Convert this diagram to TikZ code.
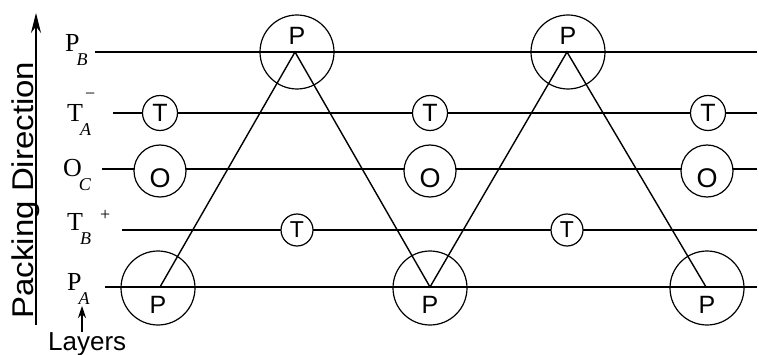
\documentclass[tikz,border=0pt]{standalone}
\usepackage{fontspec}
\setmainfont{Liberation Serif}
\setsansfont{Liberation Sans}
\usetikzlibrary{arrows.meta}
% layer label: letter, italic subscript, optional superscript
\newcommand{\lab}[3]{#1\kern-3pt\rlap{\raisebox{-14pt}{\fontsize{18}{18}\selectfont\itshape #2}}#3}
\newcommand{\upmark}[3]{\kern#1\raisebox{#2}{\fontsize{18}{18}\selectfont #3}}

\begin{document}
\begin{tikzpicture}[x=1pt,y=-1pt,
  layer/.style={line width=1.5pt},
  tring/.style={circle,draw,fill=white,line width=1.2pt,inner sep=0pt,minimum size=35pt,font=\fontsize{25}{25}\selectfont\sffamily},
  oring/.style={circle,draw,fill=white,line width=1.2pt,inner sep=0pt,minimum size=52pt},
  pring/.style={circle,draw,line width=1.2pt,inner sep=0pt,minimum size=74pt},
  atom/.style={inner sep=0pt,font=\fontsize{25}{25}\selectfont\sffamily},
  lay/.style={anchor=base west,inner sep=0pt,font=\fontsize{26}{26}\selectfont}]
  \useasboundingbox (0,0) rectangle (759,355);

  % layers
  \draw[layer] (95,52)--(757,52);
  \draw[layer] (113,113)--(757,113);
  \draw[layer] (102,169)--(757,169);
  \draw[layer] (122,230)--(757,230);
  \draw[layer] (105,287)--(757,287);

  \node[lay] (lpb) at (65,52) {\lab{P}{B}{}};
  \node[lay] (lta) at (67,122) {\lab{T}{A}{\upmark{5pt}{22pt}{−}}};
  \node[lay] (loc) at (63,177) {\lab{O}{C}{}};
  \node[lay] (ltb) at (67,230) {\lab{T}{B}{\upmark{20pt}{10pt}{+}}};
  \node[lay] (lpa) at (67,290) {\lab{P}{A}{}};

  % zigzag chain
  \coordinate (a1) at (160,287);
  \coordinate (b1) at (295,52);
  \coordinate (a2) at (430,287);
  \coordinate (b2) at (567,52);
  \coordinate (a3) at (706,287);
  \draw[line width=1.4pt] (a1)--(b1)--(a2)--(b2)--(a3);

  % atoms
  \foreach \n/\x in {1/158,2/430,3/707}{
    \node[pring] (pa\n) at (\x,288) {};
    \node[atom] (pat\n) at (\x,305) {P};
  }
  \foreach \n/\x in {1/297,2/568}{
    \node[pring] (pb\n) at (\x,52) {};
    \node[atom] (pbt\n) at (\x,36) {P};
  }
  \foreach \n/\x in {1/160,2/430,3/708}{
    \node[tring] (ta\n) at (\x,113) {T};
  }
  \foreach \n/\x in {1/160,2/430,3/707}{
    \node[oring] (oc\n) at (\x,171) {};
    \node[atom,font=\fontsize{27}{27}\selectfont\sffamily] (oct\n) at (\x,178) {O};
  }
  \foreach \n/\x in {1/297,2/567}{
    \node[tring,minimum size=32pt,font=\fontsize{23}{23}\selectfont\sffamily] (tb\n) at (\x,230) {T};
  }

  % axis and captions
  \node[rotate=90,xscale=1.1,anchor=base,inner sep=0pt,font=\fontsize{30}{30}\selectfont\sffamily] (pd) at (33,190) {Packing Direction};
  \coordinate (pdlo) at (36,325);
  \coordinate (pdhi) at (36,13);
  \draw[line width=1.2pt,-{Stealth[length=20pt,width=10pt]}] (pdlo)--(pdhi);
  \node[anchor=base west,inner sep=0pt,font=\fontsize{26}{26}\selectfont\sffamily] (lys) at (48,350) {Layers};
  \coordinate (lyt) at (82,306);
  \draw[line width=1.2pt,-{Stealth[length=12pt,width=8pt]}] (lys.north -| lyt)--(lyt);
\end{tikzpicture}
\end{document}
